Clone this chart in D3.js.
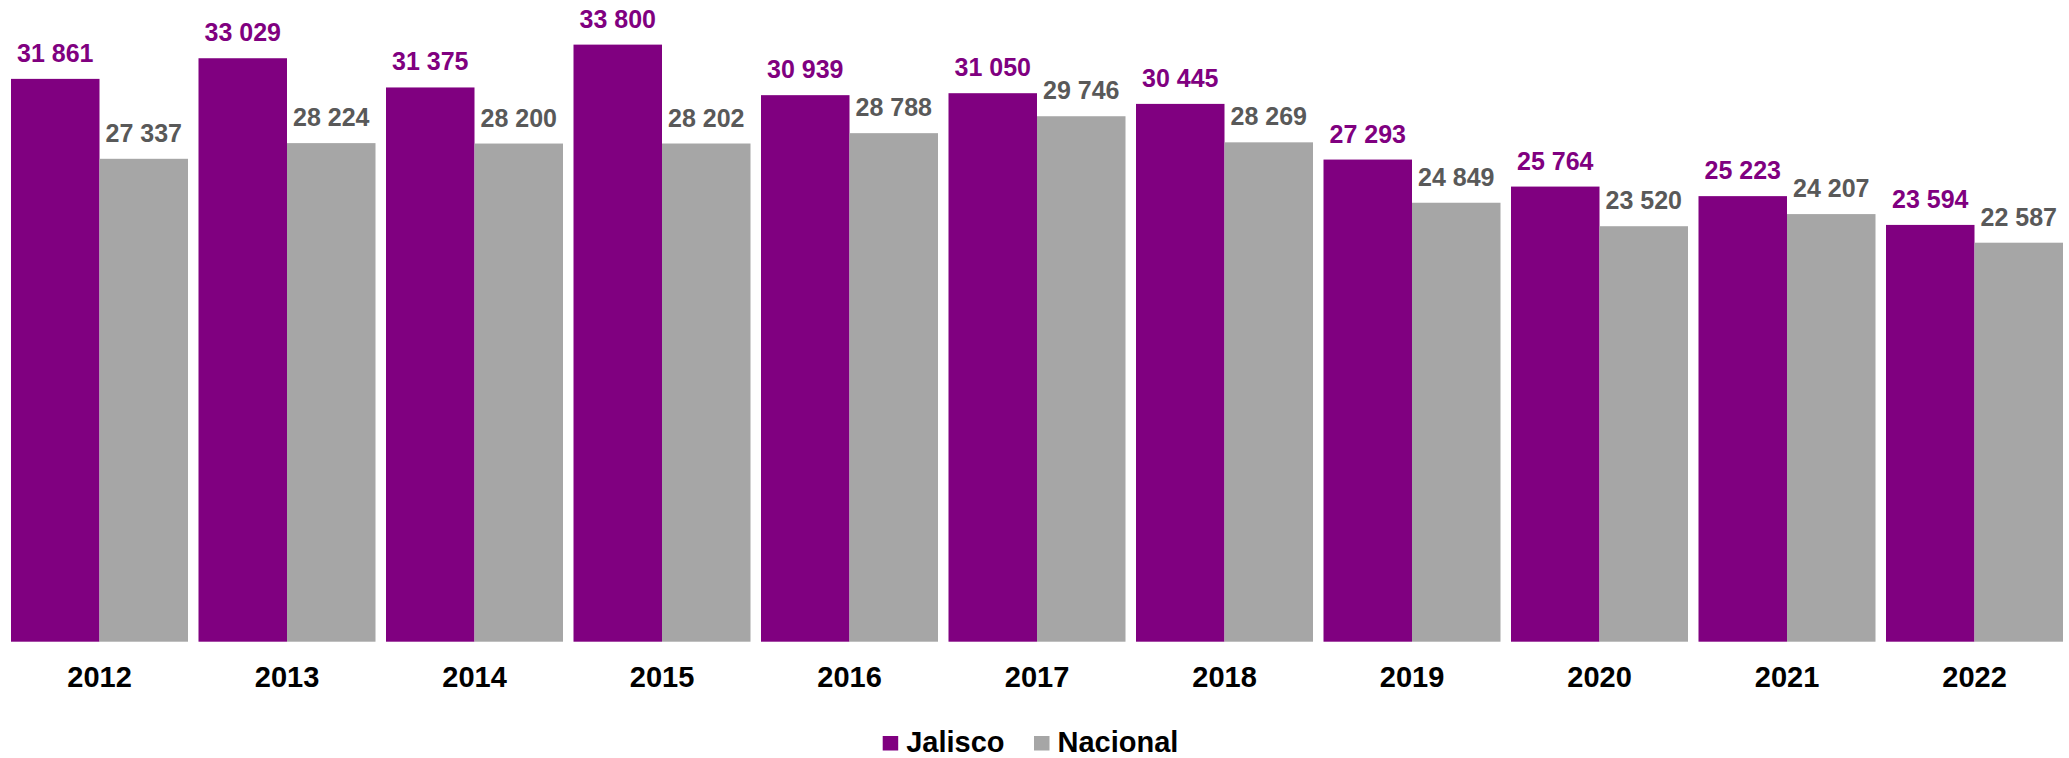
<!DOCTYPE html>
<html>
<head>
<meta charset="utf-8">
<script src="https://cdn.jsdelivr.net/npm/d3@7"></script>
<style>
    body { margin: 0; background: #ffffff; }
    svg { display: block; font-family: "Liberation Sans", Arial, sans-serif; }
</style>
</head>
<body>
<div id="chart"></div>
<script>
var years = ["2012", "2013", "2014", "2015", "2016", "2017", "2018", "2019", "2020", "2021", "2022"];
var jalisco = [31861, 33029, 31375, 33800, 30939, 31050, 30445, 27293, 25764, 25223, 23594];
var nacional = [27337, 28224, 28200, 28202, 28788, 29746, 28269, 24849, 23520, 24207, 22587];
var seriesNames = ["Jalisco", "Nacional"];
var seriesColors = ["#800080", "#a6a6a6"];
var labelColors = ["#800080", "#595959"];

function init() {
    var w = 2069;
    var h = 758;
    var baseline = 641.7;

    var dataset = years.map(function(y, i) {
        return { year: y, values: [jalisco[i], nacional[i]] };
    });

    var pad = 10.5 / 187.5;
    var xScale = d3.scaleBand()
                   .domain(years)
                   .range([5.75, 2068.25])
                   .paddingInner(pad)
                   .paddingOuter(pad / 2);

    var xInner = d3.scaleBand()
                   .domain([0, 1])
                   .range([0, xScale.bandwidth()]);

    var yScale = d3.scaleLinear()
                   .domain([0, 36000])
                   .range([baseline, baseline - 36000 * 0.017665]);

    var svg = d3.select("#chart")
                .append("svg")
                .attr("width", w)
                .attr("height", h);

    var groups = svg.selectAll("g.year")
                    .data(dataset)
                    .enter()
                    .append("g")
                    .attr("class", "year")
                    .attr("transform", function(d) { return "translate(" + xScale(d.year) + ",0)"; });

    var bars = groups.selectAll("g.bar")
                     .data(function(d) { return d.values.map(function(v, k) { return { k: k, v: v }; }); })
                     .enter()
                     .append("g")
                     .attr("class", "bar");

    bars.append("rect")
        .attr("x", function(d) { return xInner(d.k); })
        .attr("y", function(d) { return yScale(d.v); })
        .attr("width", xInner.bandwidth())
        .attr("height", function(d) { return baseline - yScale(d.v); })
        .attr("fill", function(d) { return seriesColors[d.k]; });

    //value labels above bars
    bars.append("text")
        .attr("x", function(d) { return xInner(d.k) + xInner.bandwidth() / 2; })
        .attr("y", function(d) { return yScale(d.v) - 17; })
        .attr("text-anchor", "middle")
        .attr("font-size", "25px")
        .attr("font-weight", "bold")
        .attr("fill", function(d) { return labelColors[d.k]; })
        .text(function(d) { return d3.format(",")(d.v).replace(",", " "); });

    //x axis labels
    var xAxis = d3.axisBottom(xScale).tickSize(0).tickPadding(0);
    var axisG = svg.append("g")
                   .attr("class", "axis")
                   .attr("transform", "translate(0," + baseline + ")")
                   .call(xAxis);
    axisG.select(".domain").remove();
    axisG.selectAll("text")
         .attr("y", 45.6)
         .attr("dy", null)
         .attr("font-size", "29px")
         .attr("font-weight", "bold")
         .attr("font-family", "'Liberation Sans', Arial, sans-serif")
         .attr("fill", "#000000");

    //legend
    var legendX = [882.7, 1034];
    var legend = svg.selectAll("g.legend")
                    .data(seriesNames)
                    .enter()
                    .append("g")
                    .attr("class", "legend")
                    .attr("transform", function(d, i) { return "translate(" + legendX[i] + ",736)"; });

    legend.append("rect")
          .attr("width", 15.5)
          .attr("height", 14.5)
          .attr("fill", function(d, i) { return seriesColors[i]; });

    legend.append("text")
          .attr("x", 23.5)
          .attr("y", 15.5)
          .attr("font-size", "29px")
          .attr("font-weight", "bold")
          .attr("fill", "#000000")
          .text(function(d) { return d; });
}
window.onload = init;
</script>
</body>
</html>
